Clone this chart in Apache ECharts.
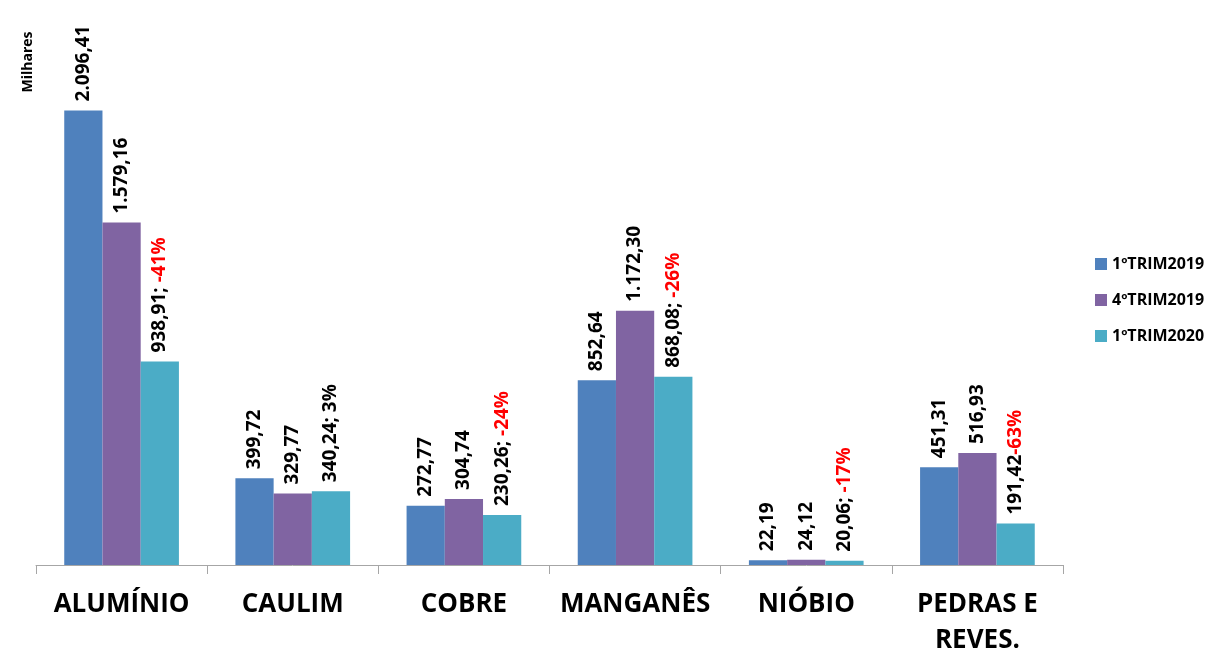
<!DOCTYPE html>
<html>
<head>
<meta charset="utf-8">
<script src="https://cdn.jsdelivr.net/npm/echarts@6/dist/echarts.min.js"></script>
<style>
  html, body { margin: 0; padding: 0; background: #fff; }
  #chart { width: 1229px; height: 651px; }
</style>
</head>
<body>
<div id="chart"></div>
<script>
// dados (milhares)
var categories = ["ALUMÍNIO", "CAULIM", "COBRE", "MANGANÊS", "NIÓBIO", "PEDRAS E\nREVES."];
var seriesNames = ["1ºTRIM2019", "4ºTRIM2019", "1ºTRIM2020"];
var trim1_2019 = [2096.41, 399.72, 272.77, 852.64, 22.19, 451.31];
var trim4_2019 = [1579.16, 329.77, 304.74, 1172.30, 24.12, 516.93];
var trim1_2020 = [938.91, 340.24, 230.26, 868.08, 20.06, 191.42];
var variacao = [-41, 3, -24, -26, -17, -63];
var separador = ["; ", "; ", "; ", "; ", "; ", ""];

var colors = ["#4F81BD", "#8064A2", "#4BACC6"];
var fontFam = "'Open Sans', 'Noto Sans', sans-serif";

// formata no padrão pt-BR: 2.096,41
function fmt(v) {
  var parts = v.toFixed(2).split(".");
  var inteiro = parts[0].replace(/\B(?=(\d{3})+(?!\d))/g, ".");
  return inteiro + "," + parts[1];
}

var labelBase = {
  show: true,
  position: "top",
  rotate: 90,
  align: "left",
  verticalAlign: "middle",
  distance: 9,
  color: "#000",
  fontFamily: fontFam,
  fontWeight: "bold",
  fontSize: 19,
};

var chart = echarts.init(document.getElementById("chart"));
chart.setOption({
  color: colors,
  animation: false,
  grid: {
    left: 36,
    right: 166,
    top: 88,
    bottom: 86,
    outerBoundsMode: "none",
  },
  legend: {
    orient: "vertical",
    left: 1090,
    top: 251,
    itemWidth: 12,
    itemHeight: 12,
    itemGap: 20,
    icon: "rect",
    data: seriesNames,
    textStyle: {
      fontFamily: fontFam,
      fontWeight: "bold",
      fontSize: 16,
      color: "#000",
    },
  },
  graphic: [
    {
      type: "text",
      x: 28,
      y: 62,
      rotation: Math.PI / 2,
      style: {
        text: "Milhares",
        fontFamily: fontFam,
        fontWeight: "bold",
        fontSize: 14,
        fill: "#000",
        align: "center",
        verticalAlign: "middle",
      },
    },
  ],
  xAxis: {
    type: "category",
    data: categories,
    axisLine: { lineStyle: { color: "#A6A6A6", width: 1 } },
    axisTick: { show: true, length: 9, lineStyle: { color: "#A6A6A6" } },
    axisLabel: {
      margin: 22,
      verticalAlign: "top",
      lineHeight: 36,
      color: "#000",
      fontFamily: fontFam,
      fontWeight: "bold",
      fontSize: 26,
      interval: 0,
    },
  },
  yAxis: {
    type: "value",
    min: 0,
    max: 2200,
    show: false,
  },
  series: [
    {
      name: seriesNames[0],
      type: "bar",
      barGap: "0%",
      barCategoryGap: "33%",
      data: trim1_2019,
      label: Object.assign({}, labelBase, {
        formatter: function (p) { return fmt(p.value); },
      }),
    },
    {
      name: seriesNames[1],
      type: "bar",
      barGap: "0%",
      barCategoryGap: "33%",
      data: trim4_2019,
      label: Object.assign({}, labelBase, {
        formatter: function (p) { return fmt(p.value); },
      }),
    },
    {
      name: seriesNames[2],
      type: "bar",
      barGap: "0%",
      barCategoryGap: "33%",
      data: trim1_2020,
      label: Object.assign({}, labelBase, {
        formatter: function (p) {
          var i = p.dataIndex;
          var pct = variacao[i] + "%";
          var style = variacao[i] < 0 ? "neg" : "pos";
          return fmt(p.value) + separador[i] + "{" + style + "|" + pct + "}";
        },
        rich: {
          neg: { color: "#FF0000", fontFamily: fontFam, fontWeight: "bold", fontSize: 19 },
          pos: { color: "#000", fontFamily: fontFam, fontWeight: "bold", fontSize: 19 },
        },
      }),
    },
  ],
});
</script>
</body>
</html>
